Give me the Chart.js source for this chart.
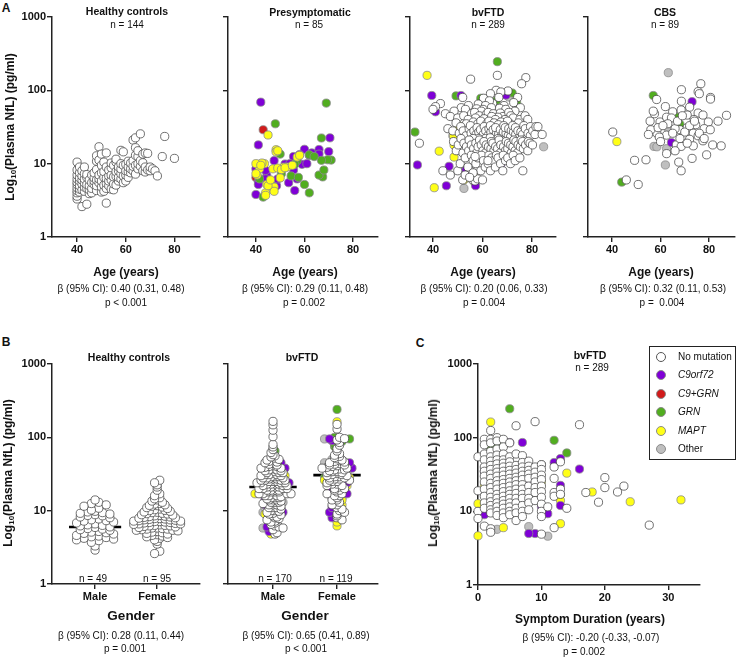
<!DOCTYPE html>
<html><head><meta charset="utf-8">
<script src="https://cdn.jsdelivr.net/npm/chart.js@4/dist/chart.umd.min.js"></script>
<style>
body{margin:0;background:#fff;width:738px;height:658px;position:relative;overflow:hidden;font-family:"Liberation Sans",Arial,sans-serif;color:#111}
.t{position:absolute;white-space:pre;transform:translate(-50%,-50%);line-height:1}
.yt{position:absolute;white-space:nowrap;transform:translate(-50%,-50%) rotate(-90deg);font-weight:bold;font-size:12px;line-height:1}
.yt sub{font-size:8px;vertical-align:-2px}
#legend{position:absolute;left:649px;top:346px;width:87px;height:114px;border:1px solid #222;box-sizing:border-box;font-size:10px}
#legend .it{position:absolute;left:0;height:14px;width:86px}
#legend .mk{position:absolute;left:6px;top:2px;width:8px;height:8px;border-radius:50%;border:0.8px solid #555}
#legend .lb{position:absolute;left:28px;top:1px;white-space:nowrap}
</style></head><body>
<script>
// ---------- DATA ----------
const yTicks = [1, 10, 100, 1000];
const ageTicks = [40, 60, 80];
const durTicks = [0, 10, 20, 30];
const genderCats = ['Male', 'Female'];
const groupNames = ['No mutation', 'C9orf72', 'C9+GRN', 'GRN', 'MAPT', 'Other'];

// Panel A: Healthy controls [age, NfL]
const hcAgeNfl = [
[40,3.3],[40,3.6],[40,4.0],[40,4.3],[40,4.7],[40,5.2],[40,5.6],[40,6.2],[40,7.0],[40,8.2],[40,10.5],
[41,4.1],[41,4.5],[41,5.0],[41,5.8],[41,6.4],[41,7.5],[41,9.0],
[42,2.6],[42,4.4],[42,5.3],[42,6.0],[42,6.8],[42,8.0],
[43,4.2],[43,4.8],[43,5.5],[43,6.2],[43,7.3],[43,9.0],
[44,2.8],[44,4.6],[44,5.2],[44,6.5],[44,7.1],
[45,3.9],[45,4.4],[45,5.0],[45,6.0],
[46,4.0],[46,4.6],[46,5.5],[46,7.0],
[47,5.2],[47,5.8],[47,6.4],[47,7.5],
[48,4.3],[48,5.0],[48,6.0],[48,8.3],[48,10.8],[48,12.8],
[49,5.5],[49,6.2],[49,7.0],[49,11.2],[49,17.0],
[50,4.1],[50,4.8],[50,5.8],[50,7.5],[50,9.5],[50,13.5],
[51,4.2],[51,5.1],[51,6.5],[51,7.8],[51,10.5],
[52,2.9],[52,4.6],[52,5.4],[52,6.3],[52,9.0],[52,14.0],
[53,5.0],[53,5.8],[53,6.8],[53,8.2],
[54,4.5],[54,6.0],[54,7.0],[54,8.8],[54,10.2],
[55,4.4],[55,5.3],[55,6.6],[55,9.5],
[56,5.1],[56,6.7],[56,7.8],[56,10.5],[56,11.5],
[57,5.8],[57,6.5],[57,8.0],[57,9.0],
[58,6.2],[58,7.3],[58,8.5],[58,10.0],[58,15.2],
[59,5.5],[59,6.8],[59,9.5],[59,14.5],
[60,5.8],[60,7.0],[60,8.0],[60,9.8],
[61,6.5],[61,7.8],[61,9.0],[61,10.8],
[62,7.5],[62,8.5],[62,10.2],
[63,8.0],[63,9.2],[63,11.0],[63,21.0],
[64,7.2],[64,9.5],[64,13.0],[64,16.5],[64,22.5],
[65,8.5],[65,10.0],[65,12.5],[65,15.0],
[66,9.2],[66,11.0],[66,25.5],
[67,8.0],[67,10.3],[67,13.5],
[68,7.7],[68,9.0],[68,14.0],
[69,8.2],[69,13.8],
[70,8.0],[70,9.0],[71,8.5],[72,8.0],[73,6.8],[75,12.5],[76,23.5],[80,11.8]
];

// Panel A: Presymptomatic [age, NfL] by mutation group
const preC9 = [[42,69],[41,18],[60,15.7],[58,13.3],[55.5,12.5],[63,14],[66,15.6],[70,14.6],[62,13],[70.5,22.5],
[41,5.7],[41,5.2],[40,3.8],[44.5,6.8],[47.5,11],[52,9.9],[55.5,8.2],[53.5,5.5],[56,4.3],[48.5,5],
[44,8.1],[44,6.2],[49,6.2],[59,9.8],[61,10],[57,6.2],[47,4.8],[54,10],[40,8.5],[66,13.5]];
const preC9GRN = [[43,29],[40,6.5]];
const preGRN = [[69,67],[48,35],[67,22.4],[71,11.2],[69.5,11.3],[67,11.1],[62,13.2],[57,11],[43,3.5],[41.5,6.2],
[45.5,5.4],[54.5,6.8],[57.5,6.5],[62,4],[67.5,6.6],[66,7],[56,9.8],[50.5,7.3],[50,13.5],[64,12.5],[60,5.2],[68,8.2]];
const preMAPT = [[45,24.6],[48.3,15.5],[48.3,14.5],[57,12.3],[51.5,9],[47,8.5],[43.5,10],[41,9.8],[42.5,10.2],[40.5,7],
[41.5,8.5],[44.5,5.2],[47.5,4.8],[44,4],[47.5,4.2],[50,6.4],[49,8.7],[50.5,8.3],[40,10],[40,7.3],
[45,5],[53,9],[58,13],[46,6],[52,8.8],[42,9.5],[44,3.7],[55,9.5],[49,15]];

// Panel A: bvFTD [age, NfL]
const bvNoMut = [
[55.2,142],[66,160],[77.5,149],[75.8,123],[65.5,100],[70.3,98],[67.4,95],[63.2,90],[52,80],[66.6,80],[74.2,80],[60.4,78],
[43,66],[41,60],[40,55],[58.3,65],[64.1,66],[62.8,72],[72.6,68],[61.2,62],[68.7,62],[54.3,62],[51.4,58],[63.6,58],
[66.9,57],[75.3,58],[53.1,55],[60.2,55],[69.4,55],[57.6,56],[48.5,52],[73.1,52],[59.5,52],
[45,48],[47,44],[50,42],[52.4,45],[55.6,48],[56.8,50],[58.7,45],[61.5,47],[62.3,50],[64.4,48],[67.2,49],[68.3,44],
[70.6,50],[71.4,45],[66.2,43],[63.7,44],[57.2,42],[60.6,41],[65.2,40],[69.1,40],[72.4,42],[75.1,40],[77.2,45],[78.3,40],
[54.2,40],[49.3,36],[53.5,35],[56.3,37],[58.1,35],[59.3,38],[61.7,35],[62.6,38],[64.7,36],[67.5,37],[71.2,35],[74.5,36],
[70.1,38],[66.4,34],
[46,30],[48,28],[50.6,26],[51.2,32],[52.2,28],[53.3,24],[54.6,30],[55.4,26],[55.1,33],[56.5,28],[57.4,25],[57.8,31],
[58.5,27],[59.2,29],[60.3,25],[60.7,32],[61.3,28],[62.1,24],[62.6,30],[63.4,27],[63.2,33],[64.3,29],[64.5,23],[65.6,26],
[65.3,31],[66.5,25],[67.2,29],[67.7,24],[68.4,27],[68.6,33],[69.5,26],[69.2,31],[70.4,24],[70.6,30],[71.6,28],[71.3,23],
[72.5,27],[72.2,33],[73.4,25],[73.3,31],[74.3,28],[74.6,22],[75.5,27],[76.2,25],[76.7,33],[77.3,30],[77.6,22],[78.4,26],
[79.3,24],[79.4,32],[80.3,28],[81.2,25],[81.6,32],[82.4,32],[84.1,25],[61.2,22],[58.4,22],[56.2,22],[63.1,22.5],[66.3,22],
[34.5,19],[48.3,20],[49.4,15],[50.2,18],[51.3,22],[52.5,19],[52.1,14],[53.5,17],[54.4,15],[54.6,21],[55.5,18],[56.4,16],
[57.3,19],[57.6,14],[58.2,17],[58.8,21],[59.5,18],[60.2,15],[60.6,20],[61.5,18],[61.2,14],[62.4,17],[63.4,16],[63.6,20],
[64.2,19],[64.6,15],[65.3,17],[66.1,16],[66.7,21],[67.4,18],[67.2,14],[68.5,17],[69.3,15],[69.6,20],[70.2,16],[70.5,19],
[71.4,18],[71.6,14],[72.3,17],[72.7,21],[73.2,15],[73.5,20],[74.4,18],[74.1,14],[75.3,17],[75.6,21],[76.5,16],[76.2,20],
[77.4,18],[78.3,15],[78.5,20],[79.2,19],[80.2,18],
[44,8],[50,8],[51,10],[53,12],[55,8],[55.5,13],[56.2,11],[57.3,10],[58.1,12],[59.3,8],[59.6,13],[60.4,11],[61.1,9],
[62.3,10],[62.6,13],[63.2,8],[63.7,12],[64.4,11],[65.2,9],[65.6,13],[66.3,12],[67.3,10],[68.2,8],[68.4,13],[69.3,11],
[70.2,12],[71.3,10],[72.4,13],[73.2,11],[75.1,12],[76.3,8],[54.1,9],[62.2,11],[57,12.5],
[47,7],[52,6],[53,7],[56,6],[57,5.8],[58,6.2],[60,6],[56.2,7.5],[54.8,6.5]
];
const bvC9 = [[39.5,85],[51.3,85],[41,51],[33.7,9.6],[46.5,9.2],[53.3,8.2],[45.4,5],[57.2,5],[59.3,34],[66.7,37.5],
[71,37],[75.5,30],[67.5,26],[71,24],[63.5,15],[67.5,10],[61.5,10.5],[69.5,86],[56,43]];
const bvGRN = [[66,246],[49.3,84],[59.3,78],[61.7,74],[65.7,73],[70.4,93],[72,92],[73.8,68],[75.8,27],[32.7,27],[62.5,61]];
const bvMAPT = [[37.6,160],[40.5,4.7],[42.5,14.8],[48.5,17.9],[48.5,12.3],[50.2,33],[53,24.3],[56.3,6.8],[52.5,6],[67.8,14.1],
[62.5,13.8],[48.3,24],[56.5,23.5]];
const bvOther = [[70.7,81],[65,43],[77.5,37],[84.7,17],[77.5,17],[48,24],[52.5,4.6],[65,11.2],[69,13],[71.5,15.2],[63,19],[57,5.5]];

// Panel A: CBS [age, NfL]
const cbsNoMut = [[40.3,27],[45.9,6],[50.8,5.2],[49.3,11.1],[54,11.3],[68.6,102],[76.6,123],[75.5,96],[76,90],[80.6,80],
[80.6,76],[58.4,75],[68.6,71],[62,60],[72,59],[65,51],[68.5,54],[75.5,49],[87.2,45.6],[57.5,48],
[55.7,38],[59.8,37],[62.5,43],[64.5,42],[71,46],[73.8,40],[77.5,46],[79.7,37],[83.7,38],[58.5,26],
[62.5,24.5],[59.5,23],[68,29],[71,31],[74.5,34],[78,30],[80.5,29],[73.5,26],[69.5,24],[75.5,24],
[72,21.5],[77.5,20.5],[66.5,18],[68.5,17.2],[73.5,17.5],[81.5,18],[85,17.5],[66,15],[62.5,13.7],[79,13.2],
[73,11.8],[67.5,10.5],[68.5,8],[56,29],[55,25],[59,31],[63,35],[66,30],[70,27],[72,33],
[74,38],[68,22],[76,26],[78,22],[71,19],[65,26],[61,33],[67,38],[69,45],[60,20],[57,52]];
const cbsC9 = [[73,70],[64.5,19.4]];
const cbsGRN = [[57,85],[67,43],[68,34.4],[44,5.6]];
const cbsMAPT = [[42,20]];
const cbsOther = [[63.2,174],[63.2,30],[57.3,17.2],[63,14.6],[62,9.6],[58.5,17],[62.5,16]];

// Panel B: NfL by gender (Healthy controls)
const hcMale = [14,13,12.5,12,11.5,10.8,10.2,9.6,9.4,9.2,9.0,8.8,8.5,8.2,8.0,7.7,7.5,7.2,7.0,6.8,6.6,6.4,6.2,6.0,5.9,
5.7,5.5,5.4,5.2,5.0,4.9,4.8,4.6,4.5,4.4,4.3,4.2,4.1,4.0,3.9,3.7,3.3,2.9,6.3,5.6,7.3,8.6,9.8,5.1];
const hcFemale = [26,24,22.5,21,19,17,16,15,14.5,14,13.5,13,12.5,12,11.8,11.5,11.2,11,10.7,10.5,10.3,10,9.8,9.6,9.4,
9.2,9,8.8,8.6,8.5,8.3,8.1,8,7.9,7.8,7.7,7.6,7.5,7.4,7.3,7.2,7.1,7,6.9,6.8,6.7,6.6,6.5,6.4,6.3,
6.2,6.1,6,5.9,5.8,5.7,5.6,5.5,5.4,5.3,5.2,5.1,5,4.9,4.8,4.7,4.6,4.5,4.4,4.3,4.2,4,3.8,3.5,2.8,
2.6,9.5,8.2,7.2,6.6,5.8,10.1,12.3,8.7,7.8,6.9,6.3,5.4,7.5,8.4,9.1,11.7,6.2,5.6,7.1];
const hcMedians = [6.0, 7.4];

// Panel B: NfL by gender (bvFTD), by mutation group
const bvMaleNoMut = [165,148,125,102,80,74,68,62,58,56,54,52,50,49,47,46,45,44,42,41,40,40,39,38,37,36,36,35,34,33,
33,32,31,31,30,30,29,29,28,28,27,27,26,26,26,25,25,24,24,24,23,23,23,22,22,21,21,21,20,20,
20,19,19,19,18,18,18,17,17,17,16.5,16,16,15.5,15,15,14.5,14,14,13.5,13,13,12.5,12,12,11.5,11,11,10.5,10,
10,9.8,9.5,9.2,9,8.8,8.5,8.2,8,7.8,7.5,7.2,7,6.8,6.5,6.2,6,5.8,5.5,5,4.8,35,28,22,19,16,13,24,31,27,
21,18,15,12,26,33,38,43,29,23,20,17,14,11,25];
const bvMaleC9 = [52,45,38,34,14,12,9.5,9,8,6,5.2,24];
const bvMaleMAPT = [33,30,25,17,13,9,8.5,4.8];
const bvMaleGRN = [65];
const bvMaleOther = [48,22,18,13,11,9.5,6.2,5.8,5.3];
const bvFemaleNoMut = [150,130,100,96,92,85,78,70,65,60,57,55,53,51,49,48,46,45,44,43,42,41,40,39,38,37,36,35,34,34,
33,32,31,31,30,30,29,29,28,28,27,27,26,25,25,24,23,22,22,21,20,20,19,18,17,17,16,15,14,14,
13,12,12,11,10.5,10,9.5,9,8.5,8,7.5,36,42,47,33,26,19,16,23,38];
const bvFemaleC9 = [95,90,45,38,24,20,17,13,11,9.5,8,15];
const bvFemaleGRN = [240,100,95,88,80,75,28];
const bvFemaleMAPT = [163,40,28,27,26,22,18,14,12,10,7,6.2];
const bvFemaleOther = [95,50,45,33,25,15];
const bvMedians = [21, 30.5];

// Panel C: bvFTD [symptom duration, NfL]
const durNoMut = [
[0,55],[0,19],[0,10],[0,8],
[1,95],[1,80],[1,60],[1,50],[1,40],[1,35],[1,30],[1,25],[1,20],[1,16],[1,13],[1,11],[1,6.3],
[2,125],[2,95],[2,85],[2,65],[2,55],[2,48],[2,42],[2,37],[2,32],[2,28],[2,24],[2,21],[2,18],[2,15.5],[2,13.5],[2,12],[2,10.5],[2,9.5],[2,5.8],[2,5.2],
[3,100],[3,90],[3,70],[3,58],[3,50],[3,44],[3,38],[3,34],[3,30],[3,26],[3,23],[3,20],[3,17],[3,15],[3,13],[3,11.5],[3,10],[3,8.8],
[4,95],[4,75],[4,60],[4,50],[4,45],[4,40],[4,35],[4,31],[4,27],[4,24],[4,21],[4,18.5],[4,16],[4,14],[4,12.5],[4,11],[4,9.5],[4,8.2],
[5,85],[5,55],[5,47],[5,41],[5,36],[5,32],[5,28],[5,25],[5,22],[5,19],[5,17],[5,15],[5,13],[5,11.5],[5,10],[5,9],
[6,145],[6,60],[6,42],[6,37],[6,33],[6,29],[6,26],[6,23],[6,20],[6,17.5],[6,15],[6,13],[6,11],[6,9.5],[6,7.5],
[7,57],[7,46],[7,40],[7,35],[7,31],[7,27],[7,23],[7,20],[7,17],[7,15],[7,12],[7,10],[7,8.5],
[8,48],[8,41],[8,36],[8,32],[8,28],[8,22],[8,18],[8,15],[8,13],[8,10.5],
[9,165],[9,40],[9,34],[9,29],[9,25],[9,21],[9,18],[9,14],
[10,43],[10,37],[10,31],[10,27],[10,22],[10,18.5],[10,15.5],[10,12.5],[10,10],[10,8.5],[10,4.9],
[11,11.5],[12,40],[12,28],[12,18],[12,16],[12,6],[13,47],[13,20],[13,17],[14,11],
[16,150],[17,18],[19,13.3],[20,28.7],[20,21],[22,18.3],[23,22],[27,6.5]
];
const durC9 = [[1,9],[1,35],[4,50],[5,86],[7,86],[7,37],[8,34],[8,30],[8,25],[8,22.5],[9,5],[8,5],[10,11.5],[11,9.3],
[13,52],[13,22.5],[13,12],[16,37.5],[3,15],[2,47],[6,40],[5,20],[12,46]];
const durMAPT = [[0,12.7],[0,4.65],[1,22],[2,163],[3,9],[4,6],[4,12],[6,12],[7,20],[7,24],[9,30],[10,25],[13,14],
[13,6.8],[14,33],[18,18.3],[24,13.5],[32,14.3],[5,14],[3,11]];
const durGRN = [[2,70],[3,75],[4,79],[5,247],[12,92],[14,62],[2,55]];
const durOther = [[3,5.7],[3,12],[3,14],[4,38],[5,20],[5,16],[5,25],[6,31],[6,13],[7,22],[8,6.2],[9,16],[10,43],[11,4.6],[13,17],[4,28],[2,35]];

// ---------- STYLE ----------
const COL = {none:'#ffffff', c9:'#7f00d6', c9grn:'#d11b1b', grn:'#51ad1f', mapt:'#ffff17', other:'#bfbfbf'};
const FONT = '"Liberation Sans", Arial, sans-serif';
Chart.defaults.font.family = FONT;
const tickFont = {family: FONT, size: 11, weight: 'bold'};

function ds(points, color, order) {
  return {
    data: points.map(p => ({x: p[0], y: p[1]})),
    pointBackgroundColor: color,
    pointBorderColor: color === COL.none ? '#4d4d4d' : '#8a8a8a',
    pointBorderWidth: 0.8, pointRadius: 4.1, pointHoverRadius: 4.1,
    showLine: false, order: order, clip: false
  };
}
function medianLine(center, half, value) {
  return {type: 'line', data: [{x: center - half, y: value}, {x: center + half, y: value}],
    borderColor: '#000', borderWidth: 2.6, pointRadius: 0, order: 99, clip: false};
}

function makeChart(spec) {
  const pt = 12, pr = 12;
  const left = spec.L - spec.yw, top = spec.T - pt;
  const w = spec.R + pr - left, h = spec.B + spec.xh - top;
  const cv = document.createElement('canvas');
  cv.width = w; cv.height = h;
  cv.style.cssText = 'position:absolute;left:' + left + 'px;top:' + top + 'px;width:' + w + 'px;height:' + h + 'px';
  document.body.appendChild(cv);
  const gridOpt = {display: true, drawOnChartArea: false, drawTicks: true, tickLength: 5, color: '#222', lineWidth: 1.4};
  const borderOpt = {display: true, color: '#222', width: 1.5};
  return new Chart(cv, {
    type: 'scatter',
    data: {datasets: spec.datasets},
    options: {
      responsive: false, animation: false, devicePixelRatio: 1, events: [],
      layout: {padding: {left: 0, top: pt, right: pr, bottom: 0}},
      plugins: {legend: {display: false}, tooltip: {enabled: false}, title: {display: false}},
      scales: {
        x: {type: 'linear', position: 'bottom', min: spec.xmin, max: spec.xmax,
          afterBuildTicks: s => { s.ticks = spec.xticks.map(v => ({value: v})); },
          afterFit: s => { s.height = spec.xh; },
          ticks: {callback: spec.xfmt || (v => String(v)), font: tickFont, color: '#111', padding: 1, maxRotation: 0, autoSkip: false},
          grid: gridOpt, border: borderOpt},
        y: {type: 'logarithmic', position: 'left', min: 1, max: 1000,
          afterBuildTicks: s => { s.ticks = yTicks.map(v => ({value: v})); },
          afterFit: s => { s.width = spec.yw; },
          ticks: {callback: v => spec.ylabels ? String(v) : '', font: tickFont, color: '#111', padding: 1, autoSkip: false},
          grid: gridOpt, border: borderOpt}
      }
    }
  });
}

// scatter-dot-plot layout: values grouped in rows (log space), spread side by side around the category centre
function swarm(groups, center, unitPx, decadePx, rowPx, spacing) {
  const items = [];
  groups.forEach(g => g.vals.forEach(v => items.push({v: v, k: g.key})));
  items.sort((a, b) => b.v - a.v);
  const rows = {};
  items.forEach(it => {
    const r = Math.round(Math.log10(it.v) * decadePx / rowPx);
    (rows[r] = rows[r] || []).push(it);
  });
  const out = {};
  Object.keys(rows).forEach(r => {
    const list = rows[r];
    const n = list.length;
    list.forEach((it, i) => {
      const slot = (i % 2 === 0 ? 1 : -1) * Math.ceil(i / 2);
      const off = n % 2 === 1 ? slot * spacing : (slot + 0.5) * spacing;
      (out[it.k] = out[it.k] || []).push([center + off / unitPx, it.v]);
    });
  });
  return out;
}

// ---------- PANEL A ----------
makeChart({L: 52, R: 200, T: 17, B: 237, yw: 40, xh: 30, ylabels: true, xmin: 29.7, xmax: 90.5, xticks: ageTicks,
  datasets: [ds(hcAgeNfl, COL.none, 0)]});
makeChart({L: 228, R: 378, T: 17, B: 237, yw: 8, xh: 30, ylabels: false, xmin: 28.5, xmax: 90.3, xticks: ageTicks,
  datasets: [ds(preC9, COL.c9, 3), ds(preC9GRN, COL.c9grn, 4), ds(preGRN, COL.grn, 2), ds(preMAPT, COL.mapt, 1)]});
makeChart({L: 410, R: 556, T: 17, B: 237, yw: 8, xh: 30, ylabels: false, xmin: 30.7, xmax: 89.7, xticks: ageTicks,
  datasets: [ds(bvNoMut, COL.none, 0), ds(bvC9, COL.c9, 1), ds(bvGRN, COL.grn, 2), ds(bvMAPT, COL.mapt, 3), ds(bvOther, COL.other, 4)]});
makeChart({L: 588, R: 735, T: 17, B: 237, yw: 8, xh: 30, ylabels: false, xmin: 30.1, xmax: 90.7, xticks: ageTicks,
  datasets: [ds(cbsNoMut, COL.none, 0), ds(cbsC9, COL.c9, 1), ds(cbsGRN, COL.grn, 2), ds(cbsMAPT, COL.mapt, 3), ds(cbsOther, COL.other, 4)]});

// ---------- PANEL B ----------
const gfmt = v => genderCats[Math.round(v) - 1] || '';
const hcM = swarm([{key: 'none', vals: hcMale}], 1, 62, 73.3, 4.2, 7.4);
const hcF = swarm([{key: 'none', vals: hcFemale}], 2, 62, 73.3, 3.2, 5.2);
makeChart({L: 52, R: 200, T: 364, B: 584, yw: 40, xh: 30, ylabels: true, xmin: 0.306, xmax: 2.69, xticks: [1, 2], xfmt: gfmt,
  datasets: [ds(hcM.none, COL.none, 0), ds(hcF.none, COL.none, 0),
    medianLine(1, 0.42, hcMedians[0]), medianLine(2, 0.41, hcMedians[1])]});
const bvM = swarm([{key: 'none', vals: bvMaleNoMut}, {key: 'c9', vals: bvMaleC9}, {key: 'mapt', vals: bvMaleMAPT},
  {key: 'grn', vals: bvMaleGRN}, {key: 'other', vals: bvMaleOther}], 1, 64, 73.3, 2.6, 4.0);
const bvF = swarm([{key: 'none', vals: bvFemaleNoMut}, {key: 'c9', vals: bvFemaleC9}, {key: 'mapt', vals: bvFemaleMAPT},
  {key: 'grn', vals: bvFemaleGRN}, {key: 'other', vals: bvFemaleOther}], 2, 64, 73.3, 2.6, 5.0);
const bDs = [];
[bvM, bvF].forEach(g => {
  if (g.c9) bDs.push(ds(g.c9, COL.c9, 2));
  if (g.mapt) bDs.push(ds(g.mapt, COL.mapt, 3));
  if (g.grn) bDs.push(ds(g.grn, COL.grn, 4));
  if (g.other) bDs.push(ds(g.other, COL.other, 5));
  if (g.none) bDs.push(ds(g.none, COL.none, 0));
});
bDs.push(medianLine(1, 0.37, bvMedians[0]), medianLine(2, 0.37, bvMedians[1]));
makeChart({L: 228, R: 378, T: 364, B: 584, yw: 8, xh: 30, ylabels: false, xmin: 0.297, xmax: 2.64, xticks: [1, 2], xfmt: gfmt,
  datasets: bDs});

// ---------- PANEL C ----------
makeChart({L: 478, R: 700, T: 364, B: 585, yw: 40, xh: 30, ylabels: true, xmin: 0, xmax: 35, xticks: durTicks,
  datasets: [ds(durNoMut, COL.none, 0), ds(durC9, COL.c9, 1), ds(durGRN, COL.grn, 2), ds(durMAPT, COL.mapt, 3), ds(durOther, COL.other, 4)]});

// ---------- TEXT ----------
function txt(s, x, y, size, bold) {
  const d = document.createElement('div');
  d.className = 't';
  d.textContent = s;
  d.style.left = x + 'px'; d.style.top = y + 'px';
  d.style.fontSize = size + 'px';
  if (bold) d.style.fontWeight = 'bold';
  document.body.appendChild(d);
}
function ytitle(x, y) {
  const d = document.createElement('div');
  d.className = 'yt';
  d.innerHTML = 'Log<sub>10</sub>(Plasma NfL) (pg/ml)';
  d.style.left = x + 'px'; d.style.top = y + 'px';
  document.body.appendChild(d);
}
txt('A', 6, 8, 12, true);
txt('B', 6, 342, 12, true);
txt('C', 420, 343, 12, true);
ytitle(11, 127); ytitle(9, 473); ytitle(434, 473);

txt('Healthy controls', 127, 11, 10.5, true); txt('n = 144', 127, 25, 10);
txt('Presymptomatic', 310, 12, 10.5, true); txt('n = 85', 309, 25, 10);
txt('bvFTD', 488, 12, 10.5, true); txt('n = 289', 488, 25, 10);
txt('CBS', 665, 12, 10.5, true); txt('n = 89', 665, 25, 10);
[[126, 'β (95% CI): 0.40 (0.31, 0.48)', 'p < 0.001', 121, 126],
 [305, 'β (95% CI): 0.29 (0.11, 0.48)', 'p = 0.002', 305, 304],
 [483, 'β (95% CI): 0.20 (0.06, 0.33)', 'p = 0.004', 484, 484],
 [661, 'β (95% CI): 0.32 (0.11, 0.53)', 'p =  0.004', 663, 662]].forEach(r => {
  txt('Age (years)', r[0], 272, 12, true);
  txt(r[1], r[3], 289, 10);
  txt(r[2], r[4], 303, 10);
});

txt('Healthy controls', 129, 357, 10.5, true);
txt('bvFTD', 302, 357, 10.5, true);
txt('n = 49', 93, 579, 10); txt('n = 95', 157, 579, 10);
txt('n = 170', 275, 579, 10); txt('n = 119', 336, 579, 10);
txt('Gender', 131, 616, 13.5, true); txt('Gender', 305, 616, 13.5, true);
txt('β (95% CI): 0.28 (0.11, 0.44)', 121, 636, 10); txt('p = 0.001', 125, 649, 10);
txt('β (95% CI): 0.65 (0.41, 0.89)', 306, 636, 10); txt('p < 0.001', 306, 649, 10);

txt('bvFTD', 590, 355, 10.5, true); txt('n = 289', 592, 368, 10);
txt('Symptom Duration (years)', 590, 619, 12, true);
txt('β (95% CI): -0.20 (-0.33, -0.07)', 591, 638, 10);
txt('p = 0.002', 584, 652, 10);

// legend
const lg = document.createElement('div'); lg.id = 'legend'; document.body.appendChild(lg);
const lgCols = [COL.none, COL.c9, COL.c9grn, COL.grn, COL.mapt, COL.other];
const lgY = [356, 374, 393, 411, 430, 448];
groupNames.forEach((n, i) => {
  const it = document.createElement('div'); it.className = 'it';
  it.style.top = (lgY[i] - 346 - 7) + 'px';
  const mk = document.createElement('div'); mk.className = 'mk'; mk.style.background = lgCols[i];
  if (i > 0) mk.style.borderColor = '#8a8a8a';
  const lb = document.createElement('div'); lb.className = 'lb'; lb.textContent = n;
  if (i >= 1 && i <= 4) lb.style.fontStyle = 'italic';
  it.appendChild(mk); it.appendChild(lb); lg.appendChild(it);
});
</script>
</body></html>
